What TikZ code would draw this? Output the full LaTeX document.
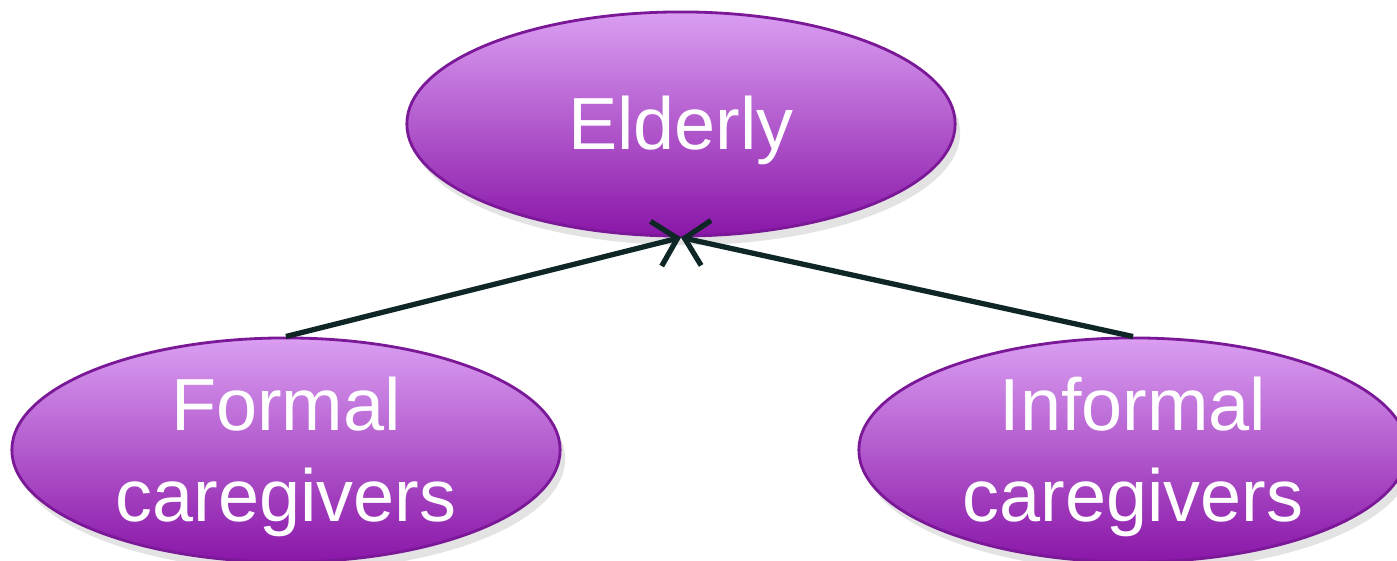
\documentclass[tikz,border=0pt]{standalone}
\usepackage{fontspec}
\setmainfont{Liberation Sans}
\usepackage{tikz}
\usetikzlibrary{shapes.geometric, arrows.meta, positioning, shadows}

\definecolor{liltop}{HTML}{DA9EF2}
\definecolor{lilbot}{HTML}{8A16A8}
\definecolor{lilline}{HTML}{7A1898}
\definecolor{arrowcol}{HTML}{0E2626}

\tikzset{
  actor/.style={ellipse, draw=lilline, line width=0.8pt, top color=liltop, bottom color=lilbot,
    minimum width=5.48cm, minimum height=2.24cm, inner xsep=0pt, inner ysep=-8pt, align=center,
    text=white, font=\fontsize{21}{25.8}\selectfont,
    drop shadow={opacity=0.22, shadow xshift=0.5mm, shadow yshift=-0.9mm}},
  link/.style={line width=1.5pt, draw=arrowcol, -{Straight Barb[length=2.2mm, width=4.6mm, line width=1.5pt]}}
}

\begin{document}
\begin{tikzpicture}[x=0.01cm, y=-0.01cm]
\useasboundingbox (0,0) rectangle (1397,561);

% Central node
\node[actor, text height=19pt, text depth=4.4pt] (elderly) at (681,124) {Elderly};

% Caregivers
\node[actor, text height=45pt, text depth=4.4pt] (formal) at (286,450) {Formal\\caregivers};
\node[actor, text height=45pt, text depth=4.4pt] (informal) at (1133,450) {Informal\\caregivers};

\draw[link] (formal.north) -- (elderly.south);
\draw[link] (informal.north) -- (elderly.south);
\end{tikzpicture}
\end{document}
